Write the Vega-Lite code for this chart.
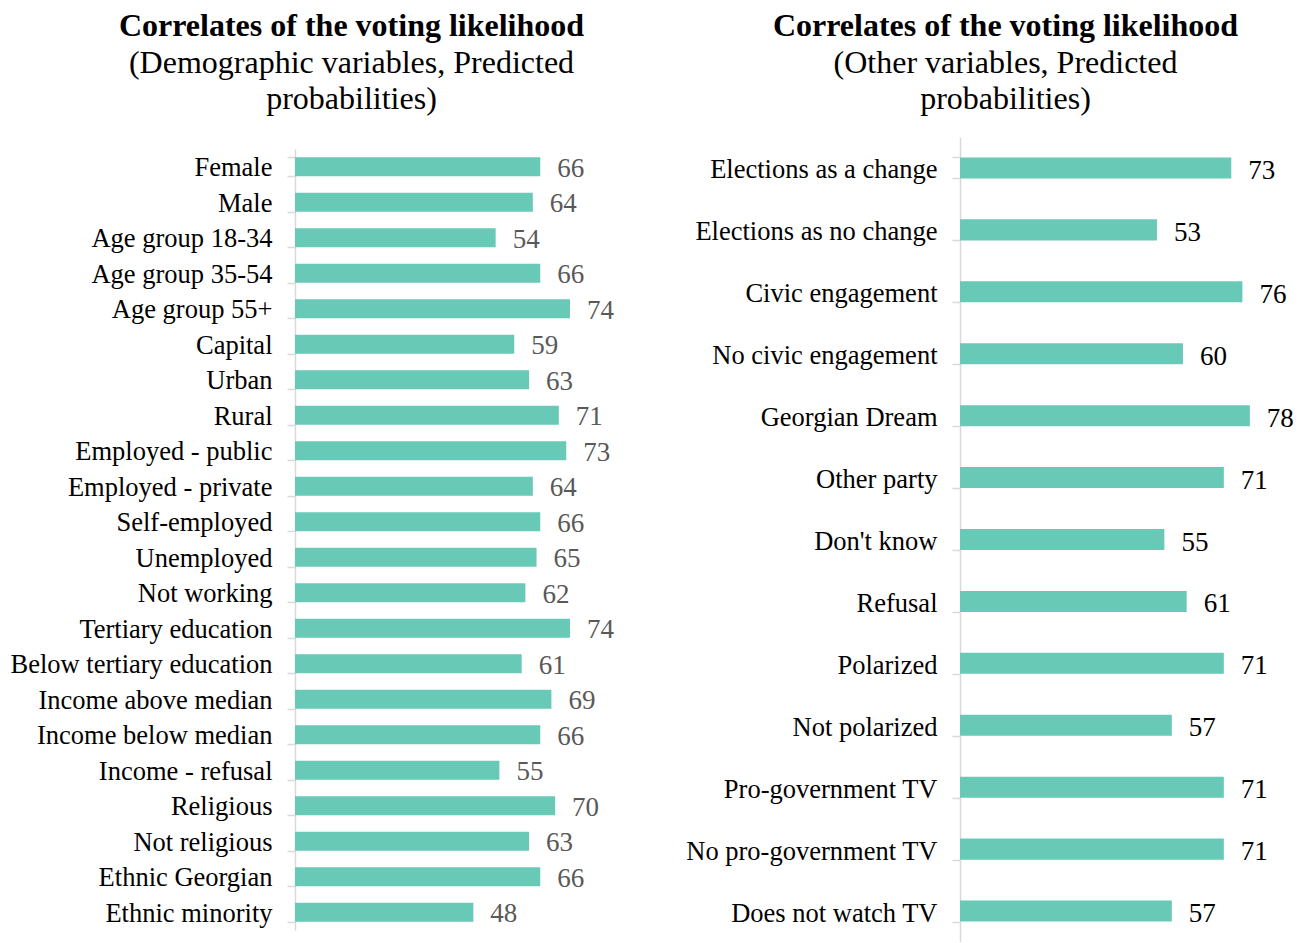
{
  "$schema": "https://vega.github.io/schema/vega-lite/v6.json",
  "padding": {"left": 10, "top": 10, "right": 0, "bottom": 0},
  "config": {
    "font": "Liberation Serif",
    "view": {"stroke": null},
    "concat": {"spacing": 63}
  },
  "datasets": {
    "left": [
      {"category": "Female", "value": 66},
      {"category": "Male", "value": 64},
      {"category": "Age group 18-34", "value": 54},
      {"category": "Age group 35-54", "value": 66},
      {"category": "Age group 55+", "value": 74},
      {"category": "Capital", "value": 59},
      {"category": "Urban", "value": 63},
      {"category": "Rural", "value": 71},
      {"category": "Employed - public", "value": 73},
      {"category": "Employed - private", "value": 64},
      {"category": "Self-employed", "value": 66},
      {"category": "Unemployed", "value": 65},
      {"category": "Not working", "value": 62},
      {"category": "Tertiary education", "value": 74},
      {"category": "Below tertiary education", "value": 61},
      {"category": "Income above median", "value": 69},
      {"category": "Income below median", "value": 66},
      {"category": "Income - refusal", "value": 55},
      {"category": "Religious", "value": 70},
      {"category": "Not religious", "value": 63},
      {"category": "Ethnic Georgian", "value": 66},
      {"category": "Ethnic minority", "value": 48}
    ],
    "right": [
      {"category": "Elections as a change", "value": 73},
      {"category": "Elections as no change", "value": 53},
      {"category": "Civic engagement", "value": 76},
      {"category": "No civic engagement", "value": 60},
      {"category": "Georgian Dream", "value": 78},
      {"category": "Other party", "value": 71},
      {"category": "Don't know", "value": 55},
      {"category": "Refusal", "value": 61},
      {"category": "Polarized", "value": 71},
      {"category": "Not polarized", "value": 57},
      {"category": "Pro-government TV", "value": 71},
      {"category": "No pro-government TV", "value": 71},
      {"category": "Does not watch TV", "value": 57}
    ]
  },
  "hconcat": [
    {
      "width": 327,
      "height": 793,
      "data": {"name": "left"},
      "title": {
        "text": "Correlates of the voting likelihood",
        "subtitle": ["(Demographic variables, Predicted", "probabilities)"],
        "fontSize": 32,
        "fontWeight": "bold",
        "color": "#000000",
        "subtitleFontSize": 32,
        "subtitleColor": "#000000",
        "subtitleLineHeight": 36,
        "subtitlePadding": 5,
        "anchor": "middle",
        "frame": "group",
        "dx": -107,
        "offset": 8
      },
      "encoding": {
        "y": {
          "field": "category",
          "type": "nominal",
          "sort": null,
          "scale": {"paddingInner": 0.465, "paddingOuter": 0.2325, "range": [12, 793]},
          "axis": {
            "title": null,
            "labelFontSize": 26.5,
            "labelColor": "#000000",
            "labelLimit": 500,
            "labelPadding": 15,
            "labelOffset": 1,
            "tickBand": "extent",
            "tickSize": 8,
            "tickColor": "#d9d9d9",
            "tickWidth": 1.5,
            "domainColor": "#d9d9d9",
            "domainWidth": 1.5
          }
        },
        "x": {
          "field": "value",
          "type": "quantitative",
          "scale": {"domain": [0, 88], "nice": false},
          "axis": null
        }
      },
      "layer": [
        {"mark": {"type": "bar", "color": "#68c9b7"}},
        {
          "mark": {"type": "text", "align": "left", "baseline": "middle", "dx": 17, "dy": 2, "fontSize": 27, "color": "#595959"},
          "encoding": {"text": {"field": "value", "type": "quantitative"}}
        }
      ]
    },
    {
      "width": 327,
      "height": 805,
      "data": {"name": "right"},
      "title": {
        "text": "Correlates of the voting likelihood",
        "subtitle": ["(Other variables, Predicted", "probabilities)"],
        "fontSize": 32,
        "fontWeight": "bold",
        "color": "#000000",
        "subtitleFontSize": 32,
        "subtitleColor": "#000000",
        "subtitleLineHeight": 36,
        "subtitlePadding": 5,
        "anchor": "middle",
        "frame": "group",
        "dx": -118,
        "offset": 8
      },
      "encoding": {
        "y": {
          "field": "category",
          "type": "nominal",
          "sort": null,
          "scale": {"paddingInner": 0.66, "paddingOuter": 0.33},
          "axis": {
            "title": null,
            "labelFontSize": 26.5,
            "labelColor": "#000000",
            "labelLimit": 500,
            "labelPadding": 15,
            "labelOffset": 2,
            "tickBand": "extent",
            "tickSize": 8,
            "tickColor": "#d9d9d9",
            "tickWidth": 1.5,
            "domainColor": "#d9d9d9",
            "domainWidth": 1.5
          }
        },
        "x": {
          "field": "value",
          "type": "quantitative",
          "scale": {"domain": [0, 88], "nice": false},
          "axis": null
        }
      },
      "layer": [
        {"mark": {"type": "bar", "color": "#68c9b7"}},
        {
          "mark": {"type": "text", "align": "left", "baseline": "middle", "dx": 17, "dy": 3, "fontSize": 27, "color": "#000000"},
          "encoding": {"text": {"field": "value", "type": "quantitative"}}
        }
      ]
    }
  ]
}
